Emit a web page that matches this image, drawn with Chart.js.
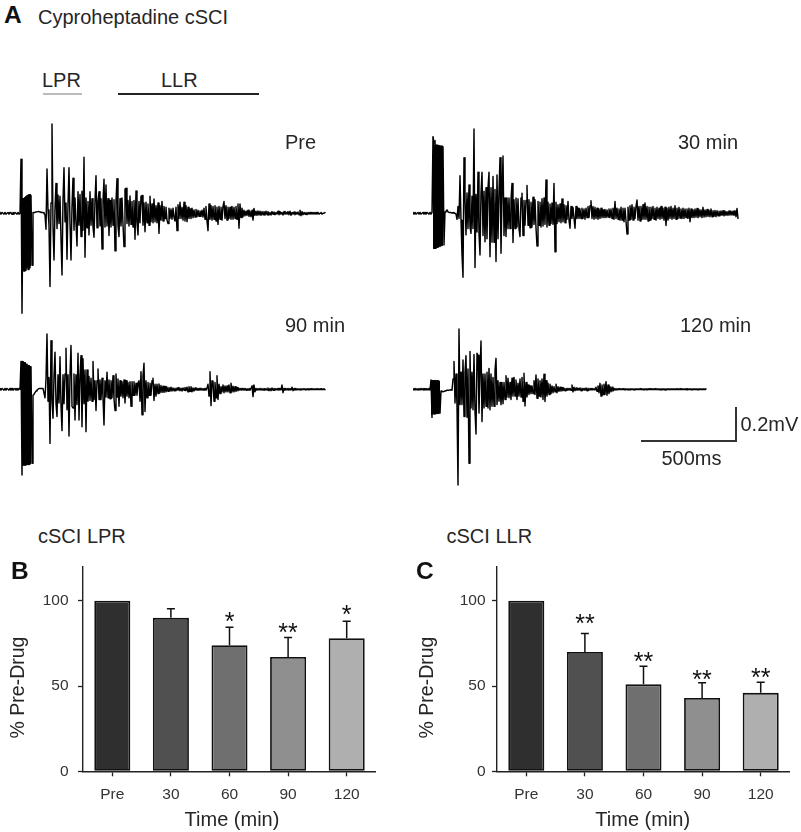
<!DOCTYPE html>
<html><head><meta charset="utf-8">
<script src="https://cdn.jsdelivr.net/npm/chart.js@4"></script>
<style>
html,body{margin:0;padding:0;background:#fff;width:801px;height:832px;overflow:hidden}
canvas{position:absolute}
.t{position:absolute;white-space:nowrap;font-family:"Liberation Sans",Arial,sans-serif;line-height:1;color:#262626}
.r{position:absolute}
</style></head><body>
<script>
// Traces: one sample per time step, values in microvolts from the picture
const msPerSample = 5.32;
const uVPerPx = 5.88;
const preTrace = [
5,-5,5,0,-5,5,-5,0,5,-5,5,0,-5,5,-5,5,0,-5,5,-5,0,
318,-588,85,-340,90,-335,95,-330,100,-320,105,-305,
5,5,5,8,8,10,10,8,5,5,5,0,-10,
-94,260,20,-70,-430,60,525,-80,-275,30,176,-90,108,-60,100,-150,-363,80,268,-50,
60,-270,50,268,-60,-275,40,206,-100,90,-60,-192,127,-70,110,-137,130,-100,
329,-259,90,-85,70,-127,127,-70,85,-80,
-141,75,221,-85,70,127,-75,85,-210,70,
200,-80,167,-75,85,-131,75,-80,90,-70,
80,-221,70,204,-75,-137,85,-75,90,-65,
-196,143,147,-60,75,-75,102,-65,70,-80,
75,-153,131,-60,-127,70,-55,100,105,-70,
60,-108,65,-55,55,-70,100,-50,55,-55,
84,-50,45,-55,60,-118,45,-40,70,-45,
40,-30,35,-40,-60,30,-30,25,-35,30,
-25,-45,35,-102,50,-30,65,-30,35,-40,
65,-45,45,-49,35,-30,25,-30,30,-25,
20,-22,22,-20,18,-18,14,-18,18,-22,
30,-35,40,-45,-102,55,-35,45,-40,40,
-35,45,-45,35,-65,40,-35,35,-40,40,
69,-30,45,-40,35,-30,35,-35,40,-35,
35,-30,40,-35,55,-88,55,-25,30,-20,
18,-15,12,-12,18,-18,12,-20,18,-40,
29,-12,12,-12,14,-10,12,-12,10,-8,
10,-10,12,-8,10,-10,5,-10,10,-5,
8,-8,5,-5,12,-8,10,-5,5,-10,
10,-5,5,-5,10,-8,12,-12,5,-5,
8,-8,5,-5,8,-8,18,-14,10,-8,
5,-5,5,-8,5,-5,5,-5,5,-5,
5,-5,5,-5,5,-5,0,5,-5,0,
0,5
];
const min30Trace = [
5,-5,5,-5,0,5,-5,5,-5,0,5,-5,5,-5,5,0,-5,5,-5,5,
450,-206,400,-205,400,-200,398,-195,396,-190,392,-186,
8,12,20,8,5,5,5,0,5,0,0,-5,
-35,40,-30,221,-40,-245,-376,327,90,-127,
120,-90,167,-80,-118,100,-90,496,-319,110,
-110,241,-120,-245,120,241,-130,130,-167,150,
-150,150,241,-255,150,-170,216,-170,140,-284,
226,-150,130,327,-235,110,337,-130,90,-137,
90,-90,90,-90,80,176,-172,80,-90,90,
-80,85,-90,-137,90,118,-130,75,-70,75,
163,-70,80,-85,65,-80,95,-65,80,-85,
-192,70,-70,65,-80,85,-75,90,-65,196,
-80,65,-70,55,-60,60,-65,176,-226,65,
-60,50,-50,55,-55,84,-50,50,-55,45,
-35,70,-40,-88,40,-30,35,-30,-88,40,
-30,30,-30,25,-30,30,-30,25,-35,30,
-25,40,-25,45,74,-30,40,-35,35,-30,
30,-35,25,-30,30,-25,20,-25,22,-25,
20,-22,25,-25,25,-30,30,-35,70,-30,
30,-35,25,-40,35,-40,30,-50,30,-45,
-122,35,-40,45,-35,50,-40,35,-30,40,
78,-40,40,-45,40,-35,50,-35,60,-35,
40,-45,35,-40,35,-30,40,-35,30,-40,
35,-30,30,-35,40,-30,30,-40,35,-72,
30,-40,35,-30,40,-35,30,-30,45,-35,
30,-30,35,-28,25,-30,30,-30,25,-25,
25,-30,30,-50,25,-25,20,-25,25,-22,
28,-25,22,-20,20,-25,35,-22,20,-20,
22,-18,18,-20,25,-20,15,-18,16,-20,
15,-15,12,-15,14,-12,15,-15,12,-12,
10,-12,14,-10,12,-10,12,-12,15,-20,
28,-30
];
const min90Trace = [
5,-5,5,0,-5,5,-5,5,0,-5,5,-5,5,-5,0,5,-5,5,-5,5,0,
163,-504,160,-445,155,-445,148,-442,140,-440,133,-435,
-35,-30,-20,-10,-5,0,5,5,5,5,5,5,
-50,60,325,-70,70,-318,286,-70,-170,80,
218,-85,-160,85,-80,192,-95,-243,85,-85,
90,241,-120,85,-275,85,257,-100,-110,90,
-180,85,-90,212,-180,85,198,-220,180,-85,
114,-249,114,-70,75,-65,65,-70,163,-60,
50,-125,50,120,-60,55,-60,65,-50,-210,
50,-45,100,-50,55,-55,50,-50,80,-55,
-125,90,-45,60,-100,50,-40,45,-50,55,
-80,50,-40,40,-50,45,-100,45,-35,45,
-35,35,-35,35,50,-70,104,-150,80,153,
-130,50,-50,40,-35,35,-35,50,65,-66,
30,-40,30,-25,31,-20,22,-18,18,-18,
16,-15,12,-12,10,-10,12,-10,8,-8,
6,-8,8,-6,10,-8,6,-10,8,-6,
10,-8,12,-15,15,-12,15,-15,8,-10,
8,-5,6,-6,5,-5,6,-5,4,-6,
5,-5,8,30,-40,104,-96,50,48,-70,
40,-50,80,-60,30,-25,15,-15,25,-20,
20,-15,20,-15,25,-20,35,-15,18,-15,
15,-12,10,-8,5,-5,5,-5,5,-5,
5,-5,4,-4,5,-5,5,20,-43,25,
-15,5,-5,4,-4,5,-5,4,-4,5,
-5,4,-4,8,-8,5,-8,8,-5,5,
-5,4,-4,5,-5,4,-4,25,-20,5,
-5,4,-4,5,-5,4,-4,12,-8,5,
-5,4,-4,3,-3,4,-4,3,-3,4,
-3,3,-3,4,-4,3,-3,4,-3,3,
-3,3,-3,3,-3,3,-3,3,-3,3,
-3
];
const min120Trace = [
4,-4,5,-4,3,-5,4,-4,5,-3,4,-5,4,-4,3,-4,5,-4,
55,-165,50,-145,52,-143,50,-142,48,-140,-10,
-12,-15,-12,-10,-8,-5,-5,-5,-5,-3,-5,
60,163,-80,90,-100,-563,355,-90,100,-90,172,-160,100,198,-165,120,-435,222,-110,100,
-120,205,-130,-263,212,200,-140,100,284,-190,90,-110,90,-100,100,-110,123,-120,90,-100,
70,-100,110,182,-90,50,-70,40,-90,40,-85,40,-60,80,-45,65,-50,40,-60,65,
-40,70,-40,55,-60,35,-40,60,-45,70,-70,94,-98,40,-45,25,-30,20,-25,20,
-25,50,-30,84,-53,60,-40,50,-45,60,-60,88,-72,50,-40,35,-30,30,-25,20,
-20,15,-15,30,-20,15,-12,12,-10,10,-8,6,-8,5,-6,6,-5,5,-6,25,
-15,12,-8,8,-6,5,-5,8,-8,6,-5,5,-6,8,-8,6,-5,4,-4,5,
-4,4,-4,12,-12,20,-20,35,-40,25,-30,30,-30,45,-35,25,-25,15,-15,12,
-10,5,-5,4,-4,3,-3,4,-3,3,-3,4,-4,3,-3,3,-3,4,-3,3,
-3,3,-4,3,-3,3,-3,4,-3,3,-3,3,-3,3,-4,3,-3,3,-3,3,
-3,3,-3,4,-3,3,-3,3,-3,3,-3,3,-4,3,-3,3,-3,3,-3,3,-3,3,-3,
3,-3,3,-3,4,-3,3,-3,3,-3,3,-4,3,-3,3,-3,3,-3,3,-3,
3,-3,4,-3,3,-3,3,-3,3,-3,3
];
// Stimulus artefact envelopes (top and bottom, same sample step)
const preStimStart = 22;
const preStimTop = [80,85,90,95,100,105,108,110,110,110];
const preStimBottom = [-345,-340,-335,-330,-325,-320,-315,-310,-305,-305];
const min30StimStart = 20;
const min30StimTop = [450,430,405,403,400,398,398,395,395,392,392];
const min30StimBottom = [-206,-206,-205,-203,-200,-198,-195,-192,-190,-188,-186];
const min90StimStart = 22;
const min90StimTop = [165,163,160,155,150,145,140,138,135,133];
const min90StimBottom = [-447,-447,-445,-445,-443,-443,-440,-440,-437,-435];
const min120StimStart = 18;
const min120StimTop = [50,52,52,52,50,50,50,48,48,46];
const min120StimBottom = [-150,-145,-145,-143,-143,-142,-142,-140,-140,-140];

// Bar panels
const times = ["Pre","30","60","90","120"];
const lprMean = [100,90,74,67,78];
const lprErrTop = [null,95.3,84.5,78.5,88];
const lprStars = [null,null,"*","**","*"];
const lprStarLevel = [null,null,91,84.5,95];
const llrMean = [100,70,51,43,46];
const llrErrTop = [null,80.8,61.6,52,52.2];
const llrStars = [null,"**","**","**","**"];
const llrStarLevel = [null,90,67.5,57,58];
const barFills = ["#2f2f2f","#505050","#6f6f6f","#8f8f8f","#afafaf"];
const yTicks = [0,50,100];

const FONT = '"Liberation Sans", Arial, sans-serif';
const tracePanels = [
  {data:preTrace,   st:preStimStart,   top_:preStimTop,   bot:preStimBottom,   left:0,   top:120, w:340, h:200, base:213.3},
  {data:min30Trace, st:min30StimStart, top_:min30StimTop, bot:min30StimBottom, left:413, top:120, w:340, h:170, base:213.3},
  {data:min90Trace, st:min90StimStart, top_:min90StimTop, bot:min90StimBottom, left:0,   top:325, w:340, h:156, base:389.3},
  {data:min120Trace,st:min120StimStart,top_:min120StimTop,bot:min120StimBottom,left:413, top:320, w:340, h:170, base:389.3}
];
function addCanvas(left,top,w,h){
  const c=document.createElement('canvas');
  c.width=w;c.height=h;c.style.left=left+'px';c.style.top=top+'px';
  c.style.width=w+'px';c.style.height=h+'px';
  document.body.appendChild(c);return c;
}
tracePanels.forEach(p=>{
  const pts=(arr,st)=>arr.map((v,i)=>({x:(st+i)*msPerSample,y:v}));
  new Chart(addCanvas(p.left,p.top,p.w,p.h),{
    type:'line',
    data:{datasets:[
      {data:pts(p.data,0),borderColor:'#000',borderWidth:1.45,pointRadius:0,tension:0,fill:false,borderJoinStyle:'round',borderCapStyle:'round'},
      {data:pts(p.top_,p.st),borderColor:'#000',borderWidth:1,pointRadius:0,tension:0,fill:false},
      {data:pts(p.bot,p.st),borderColor:'#000',borderWidth:1,pointRadius:0,tension:0,fill:'-1',backgroundColor:'#000'}
    ]},
    options:{responsive:false,animation:false,devicePixelRatio:1,
      plugins:{legend:{display:false},tooltip:{enabled:false}},
      layout:{padding:0,autoPadding:false},
      scales:{
        x:{type:'linear',display:false,min:0,max:p.w*msPerSample},
        y:{type:'linear',display:false,max:(p.base-p.top)*uVPerPx,min:-(p.top+p.h-p.base)*uVPerPx}
      }}
  });
});

const overlay={id:'overlay',afterDatasetsDraw(ch,a,o){
  const c=ch.ctx,xs=ch.scales.x,ys=ch.scales.y;
  c.save();
  c.strokeStyle='#111';c.lineWidth=1.5;
  o.err.forEach((v,i)=>{
    if(v==null)return;
    const x=xs.getPixelForValue(i),y0=ys.getPixelForValue(o.mean[i]),y1=ys.getPixelForValue(v);
    c.beginPath();c.moveTo(x,y0);c.lineTo(x,y1);c.moveTo(x-4,y1);c.lineTo(x+4,y1);c.stroke();
  });
  c.fillStyle='#111';c.font='25px '+FONT;c.textAlign='center';c.textBaseline='alphabetic';
  o.stars.forEach((s,i)=>{
    if(!s)return;
    c.fillText(s,xs.getPixelForValue(i),ys.getPixelForValue(o.level[i])+14);
  });
  c.fillStyle='#262626';c.font='20px '+FONT;c.textAlign='center';
  c.fillText('Time (min)',o.xTitleX,269.5);
  c.translate(o.yTitleX,131.5);c.rotate(-Math.PI/2);
  c.font='19.5px '+FONT;c.fillText('% Pre-Drug',0,0);
  c.restore();
}};
function barPanel(left,mean,err,stars,level,tickPad,xTitleX,yTitleX){
  new Chart(addCanvas(left,556,376,276),{
    type:'bar',
    data:{labels:times,datasets:[{data:mean,backgroundColor:barFills,borderColor:'#111',borderWidth:1.8,
      borderSkipped:false,categoryPercentage:1,barPercentage:0.615}]},
    options:{responsive:false,animation:false,devicePixelRatio:1,
      layout:{autoPadding:false,padding:{top:10.7,left:0,right:0,bottom:0}},
      plugins:{legend:{display:false},tooltip:{enabled:false},overlay:{mean,err,stars,level,xTitleX,yTitleX}},
      scales:{
        x:{grid:{drawOnChartArea:false,drawTicks:true,tickLength:5,tickColor:'#222',offset:false,tickWidth:1.3},
           border:{display:true,color:'#222',width:1.4},
           ticks:{color:'#333',font:{family:FONT,size:15.5},padding:9,maxRotation:0},
           afterFit(s){s.height=60.7;s.paddingLeft=0;s.paddingRight=0}},
        y:{min:0,max:120,
           afterBuildTicks(s){s.ticks=yTicks.map(v=>({value:v}))},
           grid:{drawOnChartArea:false,drawTicks:true,tickLength:5,tickColor:'#222',tickWidth:1.3},
           border:{display:true,color:'#222',width:1.4},
           ticks:{color:'#333',font:{family:FONT,size:15.5},padding:tickPad},
           afterFit(s){s.width=83;s.paddingTop=0;s.paddingBottom=0}}
      }},
    plugins:[overlay]
  });
}
barPanel(0,lprMean,lprErrTop,lprStars,lprStarLevel,9.5,232,24);
barPanel(414,llrMean,llrErrTop,llrStars,llrStarLevel,6.5,228.7,19.3);

// Text labels: [text, x, baseline, size, bold]
const labels=[
 ["A",4,24,24.5,1],["Cyproheptadine cSCI",38,24,20,0],
 ["LPR",42,87,20,0],["LLR",161,87,20,0],
 ["Pre",285,148.5,20,0],["30 min",678,149,20,0],
 ["90 min",285,331.5,20,0],["120 min",680,331.5,20,0],
 ["0.2mV",740.5,431,20,0],["500ms",661.5,465,20,0],
 ["cSCI LPR",38,542.5,20,0],["cSCI LLR",446.5,542.5,20,0],
 ["B",11,580,24.5,1],["C",416,580,24.5,1]
];
labels.forEach(([s,x,b,z,bold])=>{
  const e=document.createElement('div');e.className='t';e.textContent=s;
  e.style.left=x+'px';e.style.top=(b-0.8465*z)+'px';e.style.fontSize=z+'px';
  if(bold){e.style.fontWeight='bold';e.style.color='#111';}
  document.body.appendChild(e);
});
// Response windows and the calibration bar
const rules=[[42.5,93,39,2,'#bbb'],[117.5,93,141,2,'#222'],[641,440,95.5,2,'#333'],[735,407,2,34.5,'#333']];
rules.forEach(([x,y,w,h,col])=>{
  const e=document.createElement('div');e.className='r';
  e.style.cssText+=`left:${x}px;top:${y}px;width:${w}px;height:${h}px;background:${col}`;
  document.body.appendChild(e);
});
</script>
</body></html>
